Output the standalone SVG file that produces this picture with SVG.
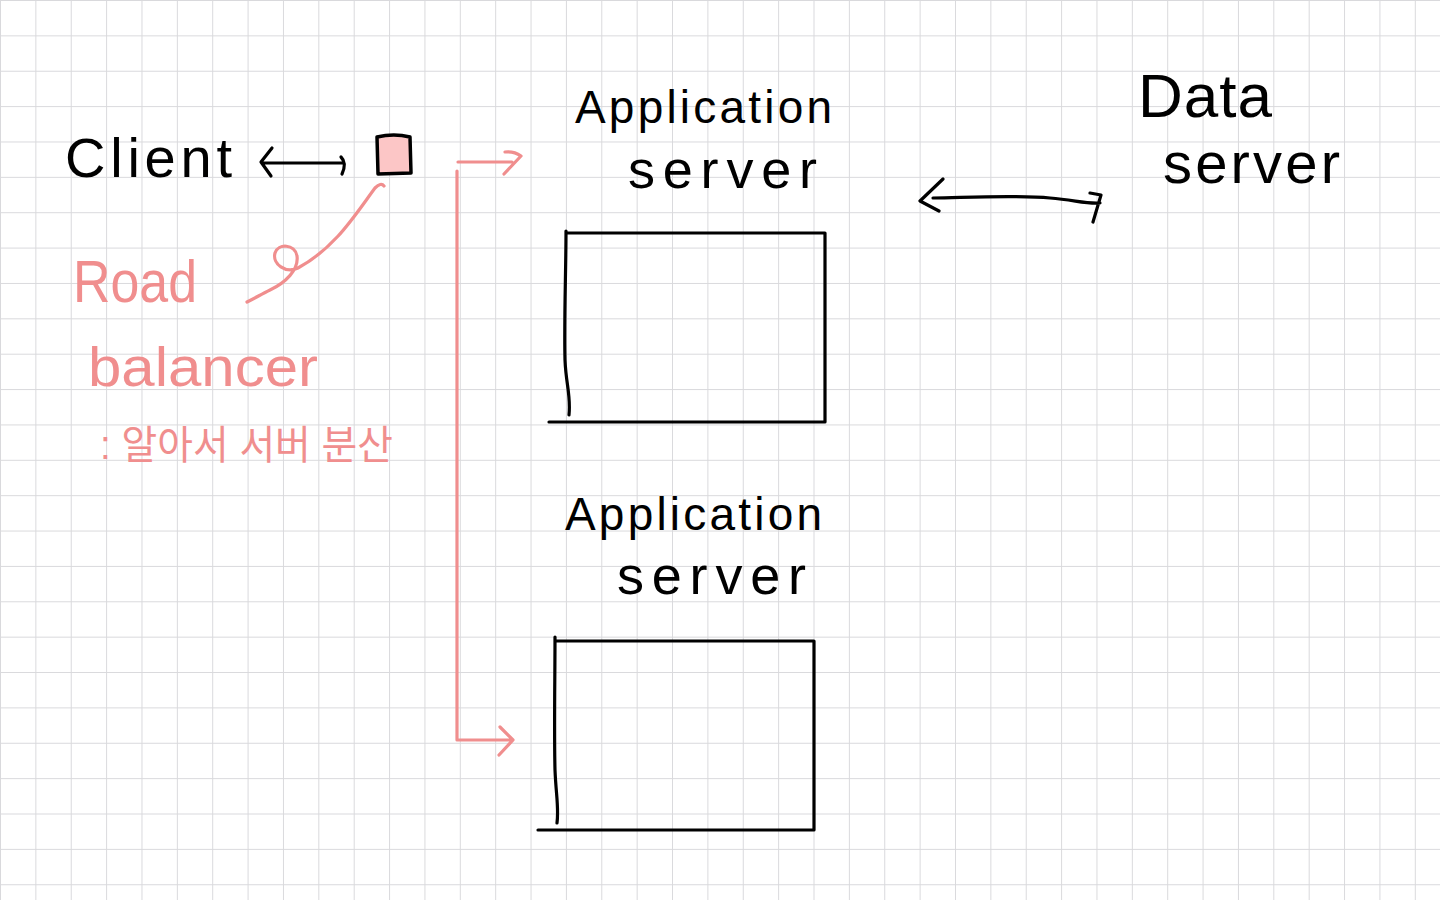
<svg xmlns="http://www.w3.org/2000/svg" width="1440" height="900" viewBox="0 0 1440 900">
  <defs>
    <pattern id="grid" patternUnits="userSpaceOnUse" width="35.37" height="35.37">
      <path d="M0 0 H35.37 M0 0 V35.37" fill="none" stroke="#d9d9dc" stroke-width="2"/>
    </pattern>
    <style>
      .ink { fill: none; stroke: #000; stroke-width: 3.2; stroke-linecap: round; stroke-linejoin: round; }
      .pink { fill: none; stroke: #f08e8e; stroke-width: 3.2; stroke-linecap: round; stroke-linejoin: round; }
      .t { font-family: "Liberation Sans", Arial, sans-serif; fill: #000; }
      .tp { font-family: "Liberation Sans", Arial, sans-serif; fill: #f08e8e; }
      .tk { font-family: "Liberation Sans", "Noto Sans CJK KR", sans-serif; fill: #f08e8e; }
    </style>
  </defs>
  <rect width="1440" height="900" fill="#ffffff"/>
  <rect width="1440" height="900" fill="url(#grid)"/>

  <g id="client">
    <text class="t" x="65" y="177" font-size="56" textLength="167" lengthAdjust="spacing">Client</text>
  </g>

  <g id="load-balancer">
    <path d="M377 137 Q394 133 410 137 L411 173 L378 174 Z" fill="#fcc6c6" stroke="#000" stroke-width="3.5" stroke-linejoin="round"/>
    <text class="tp" x="73" y="302" font-size="60" textLength="124" lengthAdjust="spacingAndGlyphs">Road</text>
    <text class="tp" x="88" y="386" font-size="56" textLength="230" lengthAdjust="spacingAndGlyphs">balancer</text>
    <text class="tk" x="100" y="459" font-size="40" textLength="293" lengthAdjust="spacingAndGlyphs">: 알아서 서버 분산</text>
  </g>

  <g id="app-server-1">
    <text class="t" x="575" y="123" font-size="46" textLength="257" lengthAdjust="spacing">Application</text>
    <text class="t" x="628" y="188" font-size="54" textLength="189" lengthAdjust="spacing">server</text>
    <path class="ink" d="M566 231 L566 233 L825 233 L825 422 M549 422 L825 422 M566 231 C566 270 564 320 565 360 C566 385 571 395 569 415"/>
  </g>

  <g id="app-server-2">
    <text class="t" x="565" y="530" font-size="46" textLength="257" lengthAdjust="spacing">Application</text>
    <text class="t" x="617" y="594" font-size="54" textLength="189" lengthAdjust="spacing">server</text>
    <path class="ink" d="M555 637 L555 641 L814 641 L814 830 M538 830 L814 830 M555 637 C555 680 554 730 555 770 C556 795 559 808 557 823"/>
  </g>

  <g id="data-server">
    <text class="t" x="1138" y="117" font-size="62" textLength="134" lengthAdjust="spacing">Data</text>
    <text class="t" x="1163" y="183" font-size="58" textLength="177" lengthAdjust="spacing">server</text>
  </g>

  <g id="connectors">
    <!-- client <-> load balancer -->
    <path class="ink" d="M262 163 L344 163 M272 148 L261 162 L271 176 M341 157 Q347 163 342 174"/>
    <!-- load balancer annotation curve with loop -->
    <path class="pink" d="M384 186 Q381 182 375 188 C355 215 335 248 298 268 C286 274 272 264 275 253 C278 243 295 244 297 256 C299 270 285 283 270 290 C262 294 255 298 247 302"/>
    <!-- distribution arrows -->
    <path class="pink" d="M458 162 L512 162 M505 152 Q514 151 521 156 L504 174"/>
    <path class="pink" d="M457 171 L457 740 L512 740 M500 727 L513 740 L499 755"/>
    <!-- app server <-> data server -->
    <path class="ink" d="M933 198 C980 197 1020 195 1050 198 C1075 200 1085 204 1100 203 M943 179 L920 201 L939 211 M1090 193 L1101 195 L1093 222"/>
  </g>
</svg>
